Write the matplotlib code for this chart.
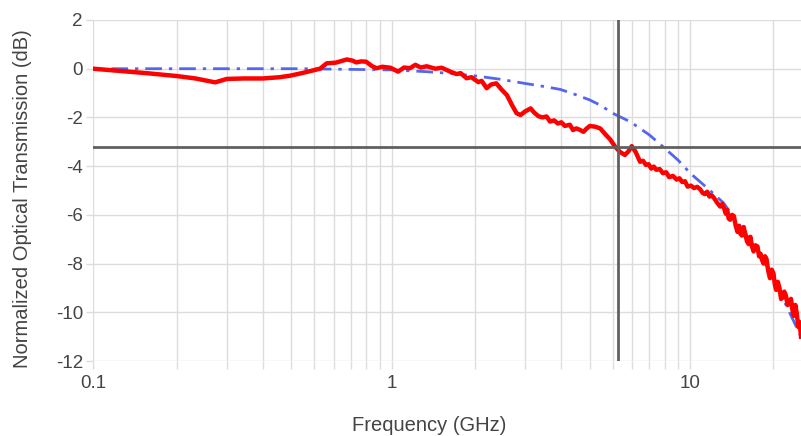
import numpy as np
import matplotlib.pyplot as plt
from matplotlib.ticker import FixedLocator, NullFormatter

freq_meas = [0.100, 0.120, 0.150, 0.190, 0.220, 0.256, 0.280, 0.320, 0.370, 0.420,
             0.455, 0.500, 0.540, 0.575, 0.605, 0.650, 0.707, 0.740, 0.760, 0.790,
             0.820, 0.860, 0.890, 0.930, 0.990, 1.050, 1.100, 1.150, 1.200, 1.250,
             1.310, 1.400, 1.470, 1.520, 1.570, 1.650, 1.700, 1.780, 1.850, 1.950,
             2.000, 2.080, 2.150, 2.240, 2.330, 2.430, 2.530, 2.620, 2.700, 2.800,
             2.920, 3.000, 3.100, 3.200, 3.300, 3.390, 3.500, 3.600, 3.700, 3.800,
             3.950, 4.050, 4.150, 4.250, 4.390, 4.500, 4.610, 4.800, 4.990, 5.200,
             5.390, 5.600, 5.820, 6.040, 6.200, 6.370, 6.550, 6.790, 6.950, 7.100,
             7.250, 7.400, 7.550, 7.700, 7.900, 8.100, 8.300, 8.500, 8.750, 9.000,
             9.200, 9.400, 9.600, 9.800, 10.05, 10.30, 10.55, 10.80, 11.00, 11.20,
             11.40, 11.60, 11.80, 12.00, 12.30, 12.60, 12.80, 13.00, 13.15, 13.30,
             13.45, 13.60, 13.80, 14.00, 14.20, 14.40, 14.55, 14.70, 14.90, 15.10,
             15.30, 15.50, 15.70, 15.90, 16.10, 16.30, 16.55, 16.80, 17.00, 17.20,
             17.40, 17.60, 17.80, 18.00, 18.25, 18.50, 18.75, 19.00, 19.20, 19.40,
             19.65, 19.90, 20.15, 20.40, 20.65, 20.90, 21.20, 21.50, 21.75, 22.00,
             22.25, 22.50, 22.75, 23.00, 23.25, 23.50]
db_meas = [0.00, -0.08, -0.18, -0.30, -0.40, -0.56, -0.42, -0.40, -0.40, -0.35,
           -0.29, -0.18, -0.08, 0.00, 0.22, 0.25, 0.38, 0.33, 0.26, 0.30,
           0.29, 0.10, 0.02, 0.08, 0.04, -0.12, 0.05, 0.02, 0.16, 0.05,
           0.10, 0.00, 0.04, -0.04, -0.12, -0.22, -0.18, -0.39, -0.35, -0.55,
           -0.50, -0.80, -0.65, -0.60, -0.85, -1.08, -1.50, -1.83, -1.90, -1.75,
           -1.63, -1.80, -1.95, -2.00, -1.96, -2.17, -2.12, -2.25, -2.20, -2.35,
           -2.30, -2.52, -2.45, -2.50, -2.59, -2.45, -2.35, -2.38, -2.45, -2.70,
           -2.90, -3.20, -3.42, -3.54, -3.40, -3.18, -3.40, -3.82, -3.78, -3.95,
           -3.92, -4.10, -4.02, -4.15, -4.12, -4.29, -4.25, -4.45, -4.40, -4.55,
           -4.50, -4.65, -4.62, -4.84, -4.80, -4.90, -4.85, -4.95, -5.10, -5.15,
           -5.05, -5.25, -5.20, -5.30, -5.50, -5.66, -5.55, -5.75, -5.95, -5.80,
           -6.15, -6.20, -6.00, -6.05, -6.45, -6.70, -6.45, -6.76, -6.85, -6.50,
           -6.80, -7.10, -7.20, -6.90, -7.30, -7.50, -7.25, -7.30, -7.70, -7.60,
           -7.85, -8.00, -7.70, -7.80, -8.30, -8.60, -8.25, -8.40, -8.85, -9.08,
           -8.75, -9.00, -9.45, -9.40, -9.15, -9.30, -9.70, -9.63, -9.45, -9.90,
           -10.15, -9.70, -10.05, -10.60, -10.40, -11.00]

# model response (blue dash-dot)
freq_model = [0.115, 0.5, 1.0, 1.3, 1.6, 1.92, 2.3, 2.78, 3.2, 3.67, 4.1, 4.6,
              5.0, 5.5, 6.3, 7.3, 8.1, 9.1, 10.0, 11.6, 12.9, 15.0, 17.5, 19.5, 23.5]
db_model = [0.0, 0.0, -0.05, -0.12, -0.2, -0.3, -0.43, -0.6, -0.72, -0.85, -1.05, -1.28,
            -1.5, -1.83, -2.18, -2.72, -3.2, -3.75, -4.29, -4.98, -5.5, -6.6, -7.8, -8.9, -11.0]

cutoff_db = -3.2
cutoff_freq = 5.72

plt.rcParams['font.family'] = ['Liberation Sans', 'DejaVu Sans']
plt.rcParams['axes.unicode_minus'] = False

fig = plt.figure(figsize=(8.01, 4.36), dpi=100)
ax = fig.add_axes([93.3 / 801, 1 - 361 / 436, 1 - 93.3 / 801, 341 / 436])

ax.set_xscale('log')
ax.set_xlim(0.1, 23.5)
ax.set_ylim(-12, 2)

grid_c = '#dcdcdc'
ax.set_yticks(np.arange(-12, 3, 2))
ax.xaxis.set_major_locator(FixedLocator([0.1, 1, 10]))
ax.set_xticklabels(['0.1', '1', '10'])
minor = [d * (1 + 0.9 * k) for d in (0.1, 1, 10) for k in range(1, 10)]
ax.xaxis.set_minor_locator(FixedLocator(minor))
ax.xaxis.set_minor_formatter(NullFormatter())
ax.grid(True, which='both', color=grid_c, lw=1.0)
ax.set_axisbelow(True)
for s in ax.spines.values():
    s.set_visible(False)
ax.tick_params(axis='x', which='both', length=6, width=1.0, color=grid_c,
               labelsize=13.5, labelcolor='#444444', pad=4)
ax.tick_params(axis='y', length=5, width=1.0, color=grid_c,
               labelsize=13.5, labelcolor='#444444', pad=2.5)

ax.plot(freq_model, db_model, color='#5566ee', lw=2.0, dashes=(6, 2.5, 1.2, 2.5), zorder=3)
ax.plot(freq_meas, db_meas, color='#ff0000', lw=3.2, solid_joinstyle='round', zorder=4)
ax.axhline(cutoff_db, color='#606060', lw=2.0, zorder=5)
ax.axvline(cutoff_freq, color='#606060', lw=2.0, zorder=5)

ax.set_xlabel('Frequency (GHz)', fontsize=14.5, color='#444444')
ax.set_ylabel('Normalized Optical Transmission (dB)', fontsize=14.5, color='#444444')
ax.xaxis.set_label_coords(0.474, -0.188)
ax.yaxis.set_label_coords(-0.1007, 0.475)
ax.xaxis.label.set_va('center')
ax.yaxis.label.set_va('center')

fig.savefig('out.png', dpi=100)
